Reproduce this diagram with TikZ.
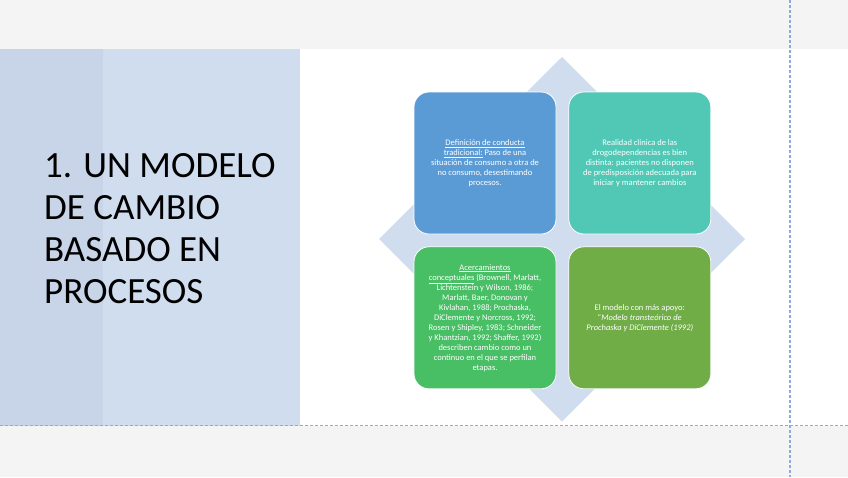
\documentclass[tikz,border=0pt]{standalone}
\usepackage{fontspec}
\setmainfont{Carlito}
\usetikzlibrary{positioning}
\definecolor{pagegray}{RGB}{244,244,244}
\definecolor{paneldark}{RGB}{200,212,231}
\definecolor{panellight}{RGB}{208,221,239}
\definecolor{diamondblue}{RGB}{208,221,238}
\definecolor{cardblue}{RGB}{91,155,213}
\definecolor{cardteal}{RGB}{80,200,181}
\definecolor{cardgreen}{RGB}{72,190,101}
\definecolor{cardolive}{RGB}{112,173,71}
\definecolor{guideblue}{RGB}{140,170,226}

\begin{document}
\begin{tikzpicture}[
  x=1pt,y=-1pt,
  card/.style={
    draw=white,
    line width=.8pt,
    rounded corners=15pt,
    minimum width=142pt,
    minimum height=142pt,
    inner sep=0pt,
    align=center,
    text=white,
    font=\fontsize{8.5}{10}\selectfont
  },
  guide/.style={draw=guideblue,line width=1.1pt,dash pattern=on 3pt off 2pt},
  title/.style={
    anchor=north west,
    inner sep=0pt,
    align=left,
    text=black,
    font=\fontsize{37}{42}\selectfont
  }
]
\useasboundingbox (0,0) rectangle (848,477);
\fill[pagegray] (0,0) rectangle (848,477);
\fill[white] (0,49) rectangle (848,425.5);
\fill[panellight] (0,49) rectangle (300,425.5);
\fill[paneldark] (0,49) rectangle (103,425.5);
\draw[guide] (790,0) -- (790,477);
\draw[guide] (0,425.5) -- (848,425.5);

\node[title] (head) at (44,153)
  {1. UN MODELO\\DE CAMBIO\\BASADO EN\\PROCESOS};

% diamond behind the cards
\fill[diamondblue] (562,57) -- (745,239) -- (562,421.5) -- (379,239) -- cycle;

\node[card,fill=cardblue] (def) at (485,163)
  {\underline{Definición de conducta}\\\underline{tradicional:} Paso de una\\
   situación de consumo a otra de\\no consumo, desestimando\\procesos.};
\node[card,fill=cardteal,right=12pt of def]
  (real) {Realidad clínica de las\\drogodependencias es bien\\
   distinta: pacientes no disponen\\de predisposición adecuada para\\
   iniciar y mantener cambios};
\node[card,fill=cardgreen,below=12pt of def]
  (conc) {\underline{Acercamientos}\\\underline{conceptuales} (Brownell, Marlatt,\\
   Lichtenstein y Wilson, 1986;\\Marlatt, Baer, Donovan y\\
   Kivlahan, 1988; Prochaska,\\DiClemente y Norcross, 1992;\\
   Rosen y Shipley, 1983; Schneider\\y Khantzian, 1992; Shaffer, 1992)\\
   describen cambio como un\\continuo en el que se perfilan\\etapas.};
\node[card,fill=cardolive,right=12pt of conc]
  (mod) {El modelo con más apoyo:\\\textit{"Modelo transteórico de}\\
   \textit{Prochaska y DiClemente (1992)}};
\end{tikzpicture}
\end{document}
